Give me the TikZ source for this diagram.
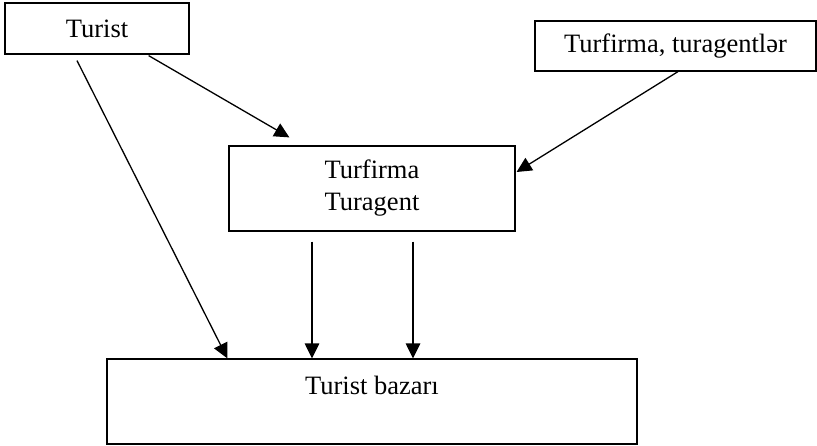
\documentclass[tikz,border=0pt]{standalone}
\usepackage{fontspec}
\setmainfont{Liberation Serif}
\usetikzlibrary{calc,arrows.meta}
\begin{document}
\begin{tikzpicture}[x=1pt,y=-1pt,
  box/.style={draw,line width=1.2pt,rectangle,inner sep=0pt,align=center,font=\fontsize{26.5}{32}\selectfont},
  conn/.style={line width=1.3pt,-{Triangle[length=15pt,width=14.5pt]}}]
\useasboundingbox (0,0) rectangle (817,446);
\node[box,minimum width=184,minimum height=51] (turist) at (97,28.5) {Turist};
\node[box,minimum width=281,minimum height=50] (ta) at (675.5,46) {Turfirma, turagentlər};
\node[box,minimum width=286,minimum height=85] (tt) at (372,188.5) {Turfirma\\Turagent};
\node[box,minimum width=530,minimum height=85] (tb) at (372,401.5) {Turist bazarı\\\mbox{}};
\draw[conn] ($(turist.south)+(-20,6)$) -- ($(tb.north west)+(121,0)$);
\draw[conn] ($(turist.south east)+(-41,1)$) -- ($(tt.north west)+(61,-8)$);
\draw[conn] ($(ta.south)+(2.5,0)$) -- ($(tt.east)+(1,-16.5)$);
\draw[conn] ($(tt.south)+(-60,10)$) -- ($(tb.north)+(-60,0)$);
\draw[conn] ($(tt.south)+(41,10)$) -- ($(tb.north)+(41,0)$);
\end{tikzpicture}
\end{document}
